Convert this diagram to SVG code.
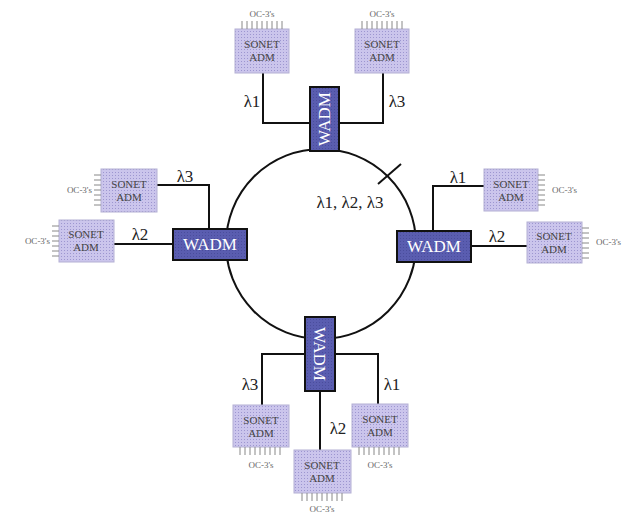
<svg xmlns="http://www.w3.org/2000/svg" width="631" height="514" viewBox="0 0 631 514">
<defs>
<pattern id="dots" width="3" height="3" patternUnits="userSpaceOnUse">
<rect width="3" height="3" fill="#cbc5ec"/>
<rect x="1" y="1" width="1" height="1" fill="#9d96d0"/>
</pattern>
<pattern id="wdots" width="3" height="3" patternUnits="userSpaceOnUse">
<rect width="3" height="3" fill="#5a5db0"/>
<rect x="1" y="1" width="1" height="1" fill="#4a4d9c"/>
</pattern>
</defs>
<style>
.adm{fill:url(#dots);stroke:#b4b0d4;stroke-width:1}
.admt{font-family:"Liberation Serif",serif;font-size:11px;fill:#444;text-anchor:middle}
.oc{font-family:"Liberation Serif",serif;font-size:9px;fill:#666}
.pin{stroke:#888;stroke-width:1}
.wadm{fill:url(#wdots);stroke:#111;stroke-width:2}
.wt{font-family:"Liberation Serif",serif;font-size:17px;fill:#fff;text-anchor:middle}
.lam{font-family:"Liberation Serif",serif;font-size:17px;fill:#222;text-anchor:middle}
.ln{fill:none;stroke:#111;stroke-width:2}
</style>
<rect width="631" height="514" fill="#fff"/>
<g id="ring">
<circle cx="321" cy="244" r="95" class="ln" stroke-width="1.8"/>
<line x1="378" y1="184" x2="401" y2="164" class="ln" stroke-width="1.5"/>
<text x="350" y="208" class="lam">λ1, λ2, λ3</text>
</g>
<g id="connectors">
<path class="ln" d="M263,73 V123 H310"/>
<path class="ln" d="M339,123 H383 V73"/>
<path class="ln" d="M157,185 H209 V229"/>
<path class="ln" d="M114,244 H173"/>
<path class="ln" d="M484,186 H433 V231"/>
<path class="ln" d="M471,246 H527"/>
<path class="ln" d="M304,354 H262 V405"/>
<path class="ln" d="M335,354 H378 V404"/>
<path class="ln" d="M320,391 V450"/>
<text x="252" y="107" class="lam">λ1</text>
<text x="397" y="107" class="lam">λ3</text>
<text x="185" y="182" class="lam">λ3</text>
<text x="140" y="240" class="lam">λ2</text>
<text x="458" y="183" class="lam">λ1</text>
<text x="497" y="242" class="lam">λ2</text>
<text x="250" y="390" class="lam">λ3</text>
<text x="392" y="390" class="lam">λ1</text>
<text x="338" y="434" class="lam">λ2</text>
</g>
<g id="wadm-top">
<rect class="wadm" x="310" y="87" width="29" height="64"/>
<text class="wt" transform="translate(330,119) rotate(-90)">WADM</text>
</g>
<g id="wadm-left">
<rect class="wadm" x="173" y="229" width="74" height="31"/>
<text class="wt" x="210" y="250">WADM</text>
</g>
<g id="wadm-right">
<rect class="wadm" x="397" y="231" width="74" height="31"/>
<text class="wt" x="434" y="252">WADM</text>
</g>
<g id="wadm-bottom">
<rect class="wadm" x="305" y="317" width="30" height="74"/>
<text class="wt" transform="translate(314,354) rotate(90)">WADM</text>
</g>
<g id="adm-top-left">
<rect class="adm" x="235" y="29" width="54" height="44"/>
<path class="pin" d="M242,21V29M247,21V29M252,21V29M257,21V29M262,21V29M267,21V29M272,21V29M277,21V29M282,21V29"/>
<text class="oc" x="262" y="17" text-anchor="middle">OC-3's</text>
<text class="admt" x="262" y="48">SONET</text>
<text class="admt" x="262" y="61">ADM</text>
</g>
<g id="adm-top-right">
<rect class="adm" x="355" y="29" width="54" height="44"/>
<path class="pin" d="M362,21V29M367,21V29M372,21V29M377,21V29M382,21V29M387,21V29M392,21V29M397,21V29M402,21V29"/>
<text class="oc" x="382" y="17" text-anchor="middle">OC-3's</text>
<text class="admt" x="382" y="48">SONET</text>
<text class="admt" x="382" y="61">ADM</text>
</g>
<g id="adm-left-upper">
<rect class="adm" x="101" y="169" width="56" height="43"/>
<path class="pin" d="M94,175H101M94,180H101M94,185H101M94,190H101M94,195H101M94,200H101M94,205H101"/>
<text class="oc" x="92" y="193" text-anchor="end">OC-3's</text>
<text class="admt" x="129" y="188">SONET</text>
<text class="admt" x="129" y="201">ADM</text>
</g>
<g id="adm-left-lower">
<rect class="adm" x="59" y="220" width="55" height="42"/>
<path class="pin" d="M52,226H59M52,231H59M52,236H59M52,241H59M52,246H59M52,251H59M52,256H59"/>
<text class="oc" x="50" y="244" text-anchor="end">OC-3's</text>
<text class="admt" x="86" y="238">SONET</text>
<text class="admt" x="86" y="251">ADM</text>
</g>
<g id="adm-right-upper">
<rect class="adm" x="484" y="169" width="54" height="42"/>
<path class="pin" d="M538,175H545M538,180H545M538,185H545M538,190H545M538,195H545M538,200H545M538,205H545"/>
<text class="oc" x="552" y="193">OC-3's</text>
<text class="admt" x="511" y="188">SONET</text>
<text class="admt" x="511" y="201">ADM</text>
</g>
<g id="adm-right-lower">
<rect class="adm" x="527" y="222" width="55" height="41"/>
<path class="pin" d="M582,228H589M582,233H589M582,238H589M582,243H589M582,248H589M582,253H589M582,258H589"/>
<text class="oc" x="596" y="245">OC-3's</text>
<text class="admt" x="554" y="240">SONET</text>
<text class="admt" x="554" y="253">ADM</text>
</g>
<g id="adm-bottom-left">
<rect class="adm" x="233" y="405" width="56" height="42"/>
<path class="pin" d="M240,447V455M245,447V455M250,447V455M255,447V455M260,447V455M265,447V455M270,447V455M275,447V455M280,447V455"/>
<text class="oc" x="261" y="468" text-anchor="middle">OC-3's</text>
<text class="admt" x="261" y="424">SONET</text>
<text class="admt" x="261" y="437">ADM</text>
</g>
<g id="adm-bottom-middle">
<rect class="adm" x="294" y="450" width="57" height="43"/>
<path class="pin" d="M302,493V501M307,493V501M312,493V501M317,493V501M322,493V501M327,493V501M332,493V501M337,493V501M342,493V501"/>
<text class="oc" x="322" y="512" text-anchor="middle">OC-3's</text>
<text class="admt" x="322" y="469">SONET</text>
<text class="admt" x="322" y="482">ADM</text>
</g>
<g id="adm-bottom-right">
<rect class="adm" x="352" y="404" width="56" height="43"/>
<path class="pin" d="M359,447V455M364,447V455M369,447V455M374,447V455M379,447V455M384,447V455M389,447V455M394,447V455M399,447V455"/>
<text class="oc" x="380" y="468" text-anchor="middle">OC-3's</text>
<text class="admt" x="380" y="423">SONET</text>
<text class="admt" x="380" y="436">ADM</text>
</g>
</svg>
